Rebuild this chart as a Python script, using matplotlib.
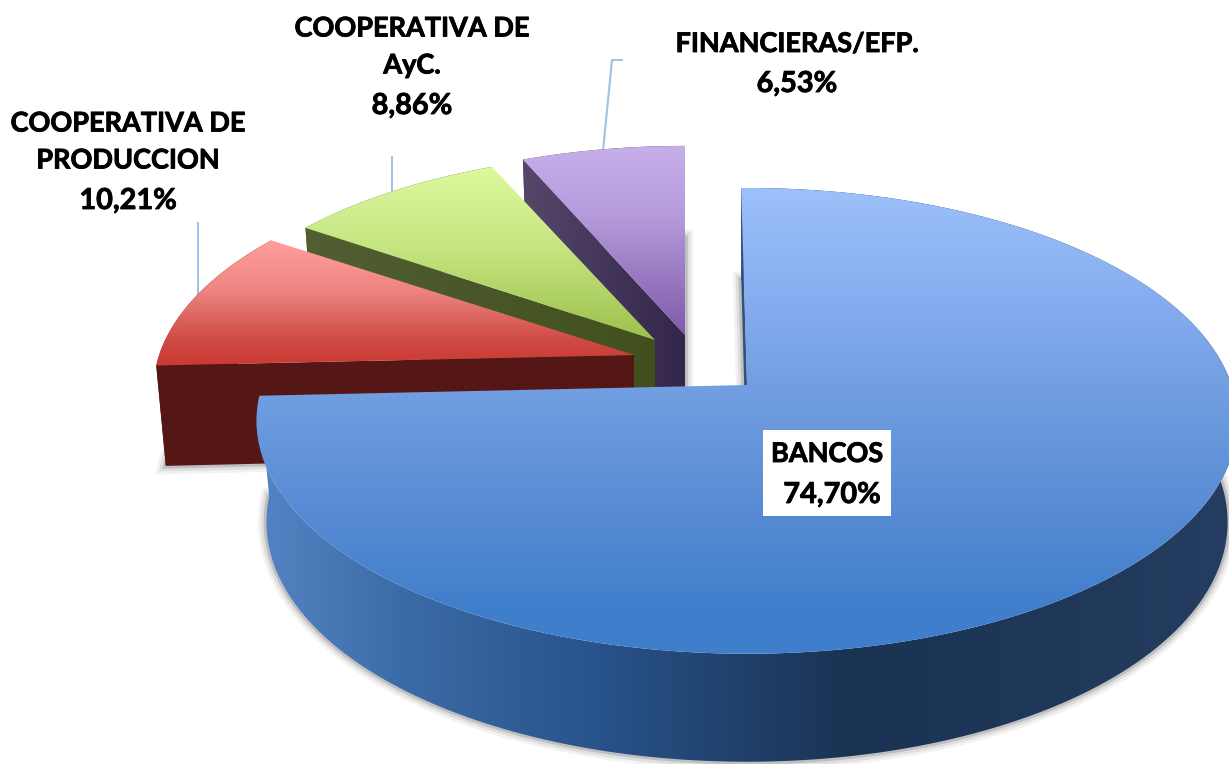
import numpy as np
from matplotlib import pyplot, colors, patheffects
from matplotlib.patches import Polygon, Rectangle

names = ["BANCOS", "COOPERATIVA DE\nPRODUCCION", "COOPERATIVA DE\nAyC.", "FINANCIERAS/EFP."]
values = [74.70, 10.21, 8.86, 6.53]

W, H = 1229, 764
start_angle = 90.8  # degrees, slices go clockwise
a, b, k = 487.0, 228.5, 0.154  # ellipse radii and perspective

apex = [(747, 385), (634, 355), (655, 340), (685, 335)]
radius = [0.995, 0.975, 0.945, 0.955]
twist = [0, 0, -0.4, -0.8]  # small per slice rotation

top_stops = [
    [(187, "#9cc1fa"), (300, "#86adef"), (400, "#6f9de0"), (500, "#5a8dd5"), (610, "#3f7ecb")],
    [(240, "#ff9f9c"), (290, "#ee8582"), (340, "#cf4a44"), (362, "#cc3b35")],
    [(166, "#dcfa9e"), (250, "#c5e480"), (340, "#9cc04b")],
    [(148, "#c6aee9"), (215, "#b59bdc"), (335, "#7f5aa8")],
]
wall_stops = [
    [(262, "#5383c2"), (400, "#3c6ca8"), (600, "#28528a"), (850, "#1a3353"), (1229, "#243d60")],
    [(150, "#541715"), (640, "#541715")],
    [(300, "#515f33"), (660, "#424f1d")],
    [(520, "#55486b"), (690, "#33254a")],
]
cut_stops = [
    [(735, "#30527c"), (750, "#30527c")],
    [(150, "#541715"), (640, "#541715")],
    [(300, "#515f33"), (660, "#424f1d")],
    [(520, "#55486b"), (690, "#33254a")],
]


def project(p, u, v, z, r):
    s = 1.0 / (1.0 + k * v)
    x = p[0] + a * r * u * s * (1 - 0.02 * z)
    y = p[1] - b * r * v * s + z * (100 - 8 * v)
    return x, y


def rim(p, r, a0, a1, z):
    th = np.radians(np.linspace(a0, a1, 200))
    return np.array([project(p, np.cos(t), np.sin(t), z, r) for t in th])


def fill(ax, pts, stops, order, horizontal=False):
    size = W if horizontal else H
    pos = np.array([s[0] for s in stops], dtype=float)
    rgb = np.array([colors.to_rgb(s[1]) for s in stops])
    grid = np.arange(size) + 0.5
    grad = np.stack([np.interp(grid, pos, rgb[:, c]) for c in range(3)], axis=-1)
    grad = grad[None, :, :] if horizontal else grad[:, None, :]
    patch = Polygon(pts, closed=True, fc="none", ec="none", zorder=order)
    ax.add_patch(patch)
    im = ax.imshow(grad, extent=(0, W, H, 0), aspect="auto", interpolation="bilinear", zorder=order)
    im.set_clip_path(patch)


def label(value):
    return ("%.2f%%" % value).replace(".", ",")


def main():
    fig = pyplot.figure(figsize=(W / 100, H / 100), dpi=100)
    ax = fig.add_axes([0, 0, 1, 1])
    ax.axis("off")

    total = sum(values)
    edges = start_angle - np.cumsum([0] + values) * 360.0 / total

    # soft shadow under each slice
    for i in range(4):
        low = rim(apex[i], radius[i], edges[i] + twist[i], edges[i + 1] + twist[i], 1)
        bottom = np.vstack([[project(apex[i], 0, 0, 1, 1)], low])
        for lw, alpha in [(12, 0.05), (8, 0.08), (4, 0.14)]:
            ax.add_patch(Polygon(bottom, closed=True, fc="none", ec="black", lw=lw, alpha=alpha, zorder=1))

    # leader lines
    line = dict(color="#9dc3e8", lw=1.5, zorder=2)
    ax.plot([198, 198], [223, 296], **line)
    ax.plot([392, 392], [157, 193], **line)
    ax.plot([622, 612, 603], [60, 60, 151], **line)

    # back to front, only the cut face at the start of each slice shows
    order = 3
    for i in [3, 2, 1, 0]:
        p, r = apex[i], radius[i]
        top = rim(p, r, edges[i] + twist[i], edges[i + 1] + twist[i], 0)
        low = rim(p, r, edges[i] + twist[i], edges[i + 1] + twist[i], 1)
        c0 = project(p, 0, 0, 0, 1)
        c1 = project(p, 0, 0, 1, 1)

        fill(ax, np.vstack([top, low[::-1]]), wall_stops[i], order, horizontal=True)
        fill(ax, [top[0], c0, c1, low[0]], cut_stops[i], order + 1, horizontal=True)
        fill(ax, np.vstack([[c0], top]), top_stops[i], order + 2)
        order += 3

    ax.add_patch(Rectangle((763, 430), 128, 86, fc="white", ec="none", zorder=order))

    text = dict(
        fontfamily="Lato", fontweight="bold", color="black", va="center", zorder=order + 1,
        path_effects=[patheffects.withStroke(linewidth=0.6, foreground="black")],
    )
    name_text = dict(fontsize=19.5, linespacing=1.65, **text)
    value_text = dict(fontsize=20.8, ha="center", **text)
    ax.text(128, 142, names[1], ha="center", **name_text)
    ax.text(128, 201, label(values[1]), **value_text)
    ax.text(412, 47, names[2], ha="center", **name_text)
    ax.text(412, 106, label(values[2]), **value_text)
    ax.text(797, 44, names[3], ha="center", **name_text)
    ax.text(797, 84, label(values[3]), **value_text)
    ax.text(771, 454, names[0], ha="left", **name_text)
    ax.text(832, 495, label(values[0]), **value_text)

    ax.set_xlim(0, W)
    ax.set_ylim(H, 0)
    fig.savefig("out.png", dpi=100, facecolor="white")


if __name__ == "__main__":
    main()
